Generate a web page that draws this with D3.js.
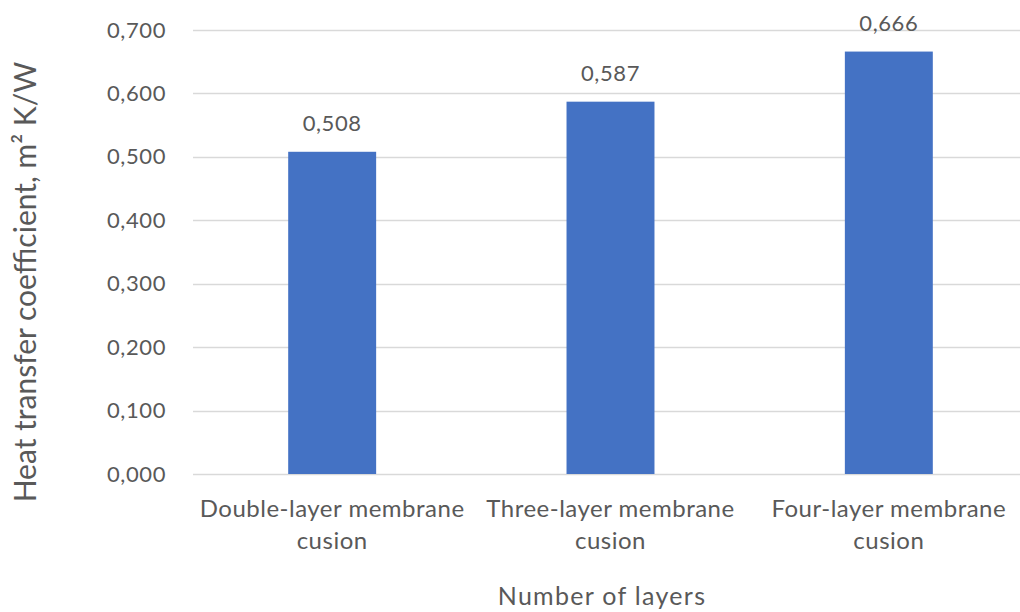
<!DOCTYPE html>
<html>
<head>
<meta charset="utf-8">
<script src="https://cdn.jsdelivr.net/npm/d3@7/dist/d3.min.js"></script>
<style>
  html, body { margin: 0; padding: 0; background: #fff; }
  svg text { font-family: Lato, "Open Sans", sans-serif; fill: #595959; }
</style>
</head>
<body>
<svg id="chart" width="1020" height="612"></svg>
<script>
// Heat transfer coefficient by cushion type
const categories = [
  ["Double-layer membrane", "cusion"],
  ["Three-layer membrane", "cusion"],
  ["Four-layer membrane", "cusion"]
];
const values = [0.508, 0.587, 0.666];
const yTicks = [0, 0.1, 0.2, 0.3, 0.4, 0.5, 0.6, 0.7];
const yTitle = "Heat transfer coefficient, m² K/W";
const xTitle = "Number of layers";

const svg = d3.select("#chart");
const margin = { left: 193, right: -8, top: 30, bottom: 138 };
const W = 1020, H = 612;
const plotBottom = H - margin.bottom;

const fmt = v => d3.format(".3f")(v).replace(".", ",");

const x = d3.scaleBand()
  .domain(d3.range(categories.length))
  .range([margin.left, W - margin.right])
  .paddingInner(0.684)
  .paddingOuter(0.342);

const y = d3.scaleLinear()
  .domain([0, 0.7])
  .range([plotBottom, margin.top]);

// gridlines
svg.append("g")
  .selectAll("line")
  .data(yTicks)
  .join("line")
  .attr("x1", margin.left)
  .attr("x2", W)
  .attr("y1", d => Math.round(y(d)) + 0.5)
  .attr("y2", d => Math.round(y(d)) + 0.5)
  .attr("stroke", "#d9d9d9")
  .attr("stroke-width", 1.5);

// y axis labels
const yAxis = d3.axisLeft(y).tickValues(yTicks).tickFormat(fmt).tickSize(0).tickPadding(27);
const gy = svg.append("g").attr("transform", `translate(${margin.left},0)`).call(yAxis);
gy.select(".domain").remove();
gy.selectAll("text")
  .attr("font-size", 22)
  .attr("letter-spacing", 0.6)
  .attr("font-family", "Lato, sans-serif")
  .style("fill", "#595959");

// bars
svg.append("g")
  .selectAll("rect")
  .data(values)
  .join("rect")
  .attr("x", (d, i) => x(i))
  .attr("width", x.bandwidth())
  .attr("y", d => y(d))
  .attr("height", d => plotBottom - y(d))
  .attr("fill", "#4472c4");

// value labels
svg.append("g")
  .selectAll("text")
  .data(values)
  .join("text")
  .attr("x", (d, i) => x(i) + x.bandwidth() / 2)
  .attr("y", d => y(d) - 21)
  .attr("text-anchor", "middle")
  .attr("font-size", 22)
  .attr("letter-spacing", 0.6)
  .text(d => fmt(d));

// category labels
const cat = svg.append("g")
  .selectAll("text")
  .data(categories)
  .join("text")
  .attr("x", (d, i) => x(i) + x.bandwidth() / 2)
  .attr("y", plotBottom + 43)
  .attr("text-anchor", "middle")
  .attr("font-size", 24)
  .attr("letter-spacing", 0.5);
cat.selectAll("tspan")
  .data(d => d)
  .join("tspan")
  .attr("x", function () { return d3.select(this.parentNode).attr("x"); })
  .attr("dy", (d, i) => i === 0 ? 0 : 32)
  .text(d => d);

// axis titles
svg.append("text")
  .attr("x", 602)
  .attr("y", 605)
  .attr("text-anchor", "middle")
  .attr("font-size", 25)
  .attr("letter-spacing", 1.3)
  .text(xTitle);

svg.append("text")
  .attr("transform", `translate(36, 282) rotate(-90)`)
  .attr("text-anchor", "middle")
  .attr("font-size", 30)
  .text(yTitle);
</script>
</body>
</html>
